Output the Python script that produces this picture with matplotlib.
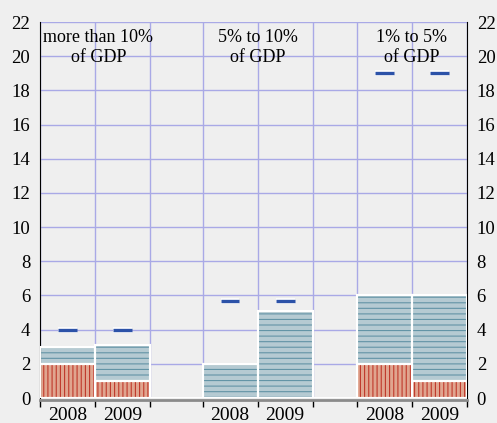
import matplotlib
matplotlib.use("Agg")
import matplotlib.pyplot as plt
import matplotlib.patheffects as pe

# data
groups = ['more than 10%\nof GDP', '5% to 10%\nof GDP', '1% to 5%\nof GDP']
years = ['2008', '2009', '2008', '2009', '2008', '2009']
red_part = [2, 1, 0, 0, 2, 1]
blue_part = [1, 2.1, 2.0, 5.1, 4, 5]
markers = [4, 4, 5.7, 5.7, 19, 19]

# layout (slot units)
x_pos = [0.5, 1.5, 3.45, 4.45, 6.25, 7.25]
bounds = [0, 1, 2, 2.95, 3.95, 4.95, 5.75, 6.75, 7.75]
group_x = [1.06, 3.95, 6.75]

bg = '#efefef'
grid_c = '#a9a9e6'
red_fill, red_line = '#e0a58f', '#c0392b'
blue_fill, blue_line = '#b5cad2', '#6394a6'

plt.rcParams['font.family'] = ['Liberation Serif', 'DejaVu Serif']
plt.rcParams['hatch.linewidth'] = 0.8

fig = plt.figure(figsize=(4.97, 4.23), dpi=100, facecolor=bg)
ax = fig.add_axes([40 / 497, 1 - 398 / 423, 427 / 497, 376 / 423], facecolor=bg)

for b in bounds:
    ax.axvline(b, color=grid_c, lw=1, zorder=0)
for y in range(2, 23, 2):
    ax.axhline(y, color=grid_c, lw=1, zorder=0)

# fill + white border, then hatch on top
ax.bar(x_pos, red_part, width=1, color=red_fill, edgecolor='white', lw=1.5, zorder=2)
ax.bar(x_pos, red_part, width=1, fill=False, hatch='||||', edgecolor=red_line, lw=0, zorder=3)
ax.bar(x_pos, blue_part, width=1, bottom=red_part, color=blue_fill, edgecolor='white', lw=1.5, zorder=2)
ax.bar(x_pos, blue_part, width=1, bottom=red_part, fill=False, hatch='---',
       edgecolor=blue_line, lw=0, zorder=3)
# redraw white borders over hatch
ax.bar(x_pos, red_part, width=1, fill=False, edgecolor='white', lw=1.5, zorder=4)
ax.bar(x_pos, blue_part, width=1, bottom=red_part, fill=False, edgecolor='white', lw=1.5, zorder=4)

ax.plot(x_pos, markers, ls='none', marker='_', ms=13.5, mew=2.4, color='#2c52a8', zorder=5,
        path_effects=[pe.Stroke(linewidth=4, foreground='white'), pe.Normal()])

for gx, g in zip(group_x, groups):
    ax.text(gx, 21.6, g, ha='center', va='top', fontsize=13, linespacing=1.25, zorder=6)

ax.set_xlim(bounds[0], bounds[-1])
ax.set_ylim(0, 22)
ax.set_yticks(range(0, 23, 2))
ax.tick_params(axis='y', length=0, labelsize=13.5, pad=7, labelright=True, right=True)
ax.set_xticks(bounds)
ax.set_xticklabels([])
ax.tick_params(axis='x', length=5, width=1, color='black', direction='out')
for xp, yr in zip(x_pos, years):
    ax.text(xp, -0.5, yr, ha='center', va='top', fontsize=14, clip_on=False)

ax.axhline(0, color='white', lw=1.5, zorder=4.5)
ax.spines['top'].set_visible(False)
ax.spines['left'].set_color('black')
ax.spines['right'].set_color('black')
ax.spines['bottom'].set_color('#8a8a8a')
ax.spines['bottom'].set_linewidth(2)
ax.spines['bottom'].set_position(('outward', 1.5))

fig.savefig('out.png', dpi=100, facecolor=bg)
